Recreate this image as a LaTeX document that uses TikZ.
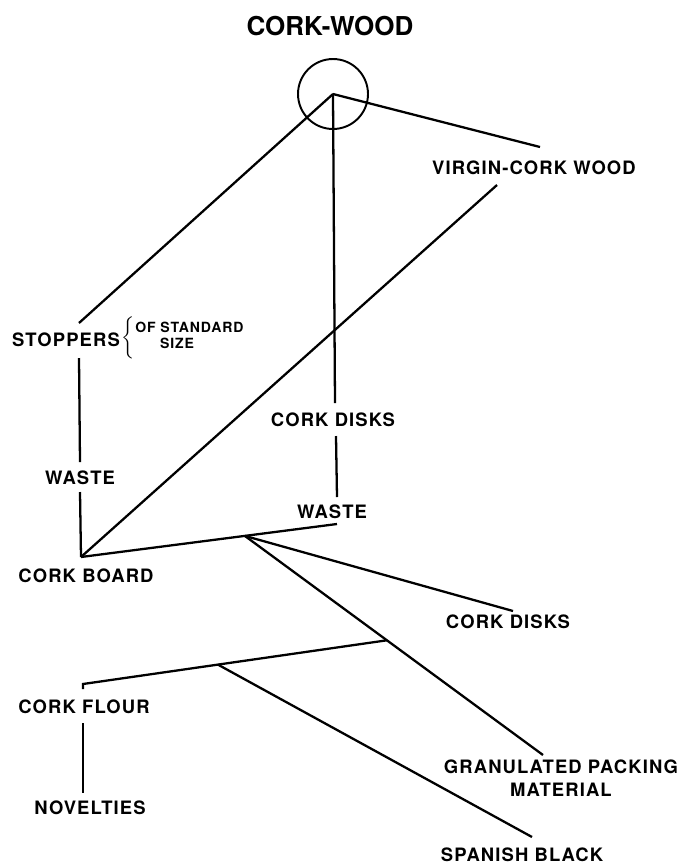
\documentclass[tikz,border=0pt]{standalone}
\usepackage{fontspec}
\setmainfont{TeX Gyre Heros}
\newfontfamily\labelfont[LetterSpace=6]{TeX Gyre Heros}
\usepackage{tikz}
\usetikzlibrary{calc,positioning}
\tikzset{
  member/.style={line width=1.3pt},
  lbl/.style={font=\labelfont\bfseries\fontsize{10.5}{13}\selectfont, inner sep=0pt, align=center},
  small/.style={font=\labelfont\bfseries\fontsize{8}{9}\selectfont, inner sep=0pt}
}
\begin{document}
\begin{tikzpicture}[x=0.02cm,y=-0.02cm]
      \useasboundingbox (0,0) rectangle (684,867);
      % Title and root
      \node[font=\bfseries\fontsize{14.8}{16}\selectfont, inner sep=0pt] (title) at (330,26) {CORK-WOOD};
      \coordinate (R) at (333,94);
      \draw[line width=1.1pt] (R) circle[radius=0.7cm];
      % Labels
      \node[lbl] (stoppers) at (66,340) {STOPPERS};
      \node[inner sep=0pt, font=\fontsize{10}{10}\selectfont] (brace) at (128,338) {$\bigg\{$};
      \node[small, anchor=west] (standard) at (135,327) {OF STANDARD};
      \node[small] (size) at (177,343) {SIZE};
      \node[lbl] (waste0) at (80,478) {WASTE};
      \node[lbl] (corkboard) at (86,576) {CORK BOARD};
      \node[lbl] (virgin) at (534,168) {VIRGIN-CORK WOOD};
      \node[lbl] (disks1) at (333,420) {CORK DISKS};
      \node[lbl] (waste1) at (332,512) {WASTE};
      \node[lbl] (disks2) at (508,622) {CORK DISKS};
      \node[lbl] (granulated) at (561,778) {GRANULATED PACKING\\MATERIAL};
      \node[lbl] (flour) at (84,707) {CORK FLOUR};
      \node[lbl] (novelties) at (90,808) {NOVELTIES};
      \node[lbl] (spanish) at (522,855) {SPANISH BLACK};
      % Define coordinates
      \coordinate (stopT) at (79,323);
      \coordinate (stopB) at (79,358);
      \coordinate (virT) at (540,147);
      \coordinate (virB) at (497,185);
      \coordinate (disk1T) at (335,403);
      \coordinate (disk1B) at (336,436);
      \coordinate (waste0T) at (80,462);
      \coordinate (waste0B) at (80,492);
      \coordinate (waste1T) at (337,497);
      \coordinate (waste1E) at (337,524);
      \coordinate (B) at (81,557);
      \coordinate (disk2T) at (513,611);
      \coordinate (granT) at (543,755);
      \coordinate (flourH) at (83,689);
      \coordinate (flourK) at (83,684);
      \coordinate (flourB) at (83,723);
      \coordinate (novT) at (83,793);
      \coordinate (spanT) at (532,837);
      % Branch points
      \coordinate (J1) at ($(B)!0.64!(waste1E)$);
      \coordinate (J2) at ($(J1)!0.4765!(granT)$);
      \coordinate (J3) at ($(flourK)!0.444!(J2)$);
      % Upper members
      \draw[member] (R) -- (stopT);
      \draw[member] (R) -- (virT);
      \draw[member] (R) -- (disk1T);
      \draw[member] (disk1B) -- (waste1T);
      \draw[member] (stopB) -- (waste0T);
      \draw[member] (waste0B) -- (B);
      % Cork board members
      \draw[member] (B) -- (virB);
      \draw[member] (B) -- (waste1E);
      \draw[member] (J1) -- (disk2T);
      \draw[member] (J1) -- (granT);
      % Lower members
      \draw[member] (flourH) -- (flourK) -- (J2);
      \draw[member] (J3) -- (spanT);
      \draw[member] (flourB) -- (novT);
\end{tikzpicture}
\end{document}
